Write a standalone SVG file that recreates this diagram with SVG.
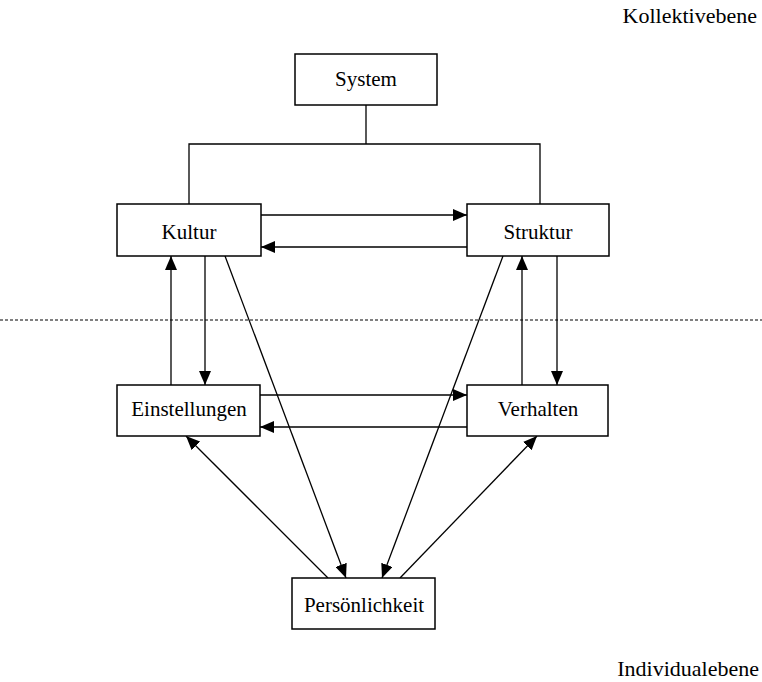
<svg xmlns="http://www.w3.org/2000/svg" width="762" height="682" viewBox="0 0 762 682">
<style>
.box{fill:#fff;stroke:#000;stroke-width:1.5}
.t{font-family:"Liberation Serif","Times New Roman",serif;font-size:21px;fill:#000;text-anchor:middle}
.lbl{font-family:"Liberation Serif","Times New Roman",serif;font-size:22px;fill:#000;text-anchor:end}
.c{fill:none;stroke:#000;stroke-width:1.3}
.a{marker-end:url(#ah)}
</style>
<defs>
<marker id="ah" markerUnits="userSpaceOnUse" markerWidth="14" markerHeight="12" viewBox="0 0 14 12" refX="14" refY="6" orient="auto">
<path d="M0,0 L14,6 L0,12 Z" fill="#000"/>
</marker>
</defs>
<rect width="762" height="682" fill="#fff"/>
<text class="lbl" x="757" y="23">Kollektivebene</text>
<text class="lbl" x="759" y="676">Individualebene</text>
<line x1="0" y1="320" x2="762" y2="320" stroke="#000" stroke-width="1.2" stroke-dasharray="3,2"/>
<g id="connectors">
<path class="c" d="M366,105 V144 M189,204 V144 H540 V204"/>
<line class="c a" x1="261" y1="215" x2="467" y2="215"/>
<line class="c a" x1="467" y1="247" x2="261" y2="247"/>
<line class="c a" x1="171" y1="385" x2="171" y2="256"/>
<line class="c a" x1="205" y1="256" x2="205" y2="385"/>
<line class="c a" x1="522" y1="385" x2="522" y2="256"/>
<line class="c a" x1="557" y1="256" x2="557" y2="385"/>
<line class="c a" x1="260" y1="395" x2="467" y2="395"/>
<line class="c a" x1="467" y1="427" x2="260" y2="427"/>
<line class="c a" x1="225" y1="256" x2="346" y2="578"/>
<line class="c a" x1="503" y1="256" x2="382" y2="578"/>
<line class="c a" x1="328" y1="578" x2="186" y2="436"/>
<line class="c a" x1="400" y1="578" x2="537" y2="436"/>
</g>
<g id="system"><rect class="box" x="295" y="54" width="142" height="51"/><text class="t" x="366" y="86">System</text></g>
<g id="kultur"><rect class="box" x="117" y="204" width="144" height="52"/><text class="t" x="189" y="239">Kultur</text></g>
<g id="struktur"><rect class="box" x="467" y="204" width="142" height="52"/><text class="t" x="538" y="239">Struktur</text></g>
<g id="einstellungen"><rect class="box" x="117" y="385" width="143" height="51"/><text class="t" x="189" y="416">Einstellungen</text></g>
<g id="verhalten"><rect class="box" x="467" y="385" width="141" height="51"/><text class="t" x="538" y="416">Verhalten</text></g>
<g id="persoenlichkeit"><rect class="box" x="292" y="578" width="143" height="51"/><text class="t" x="364" y="612">Persönlichkeit</text></g>
</svg>
